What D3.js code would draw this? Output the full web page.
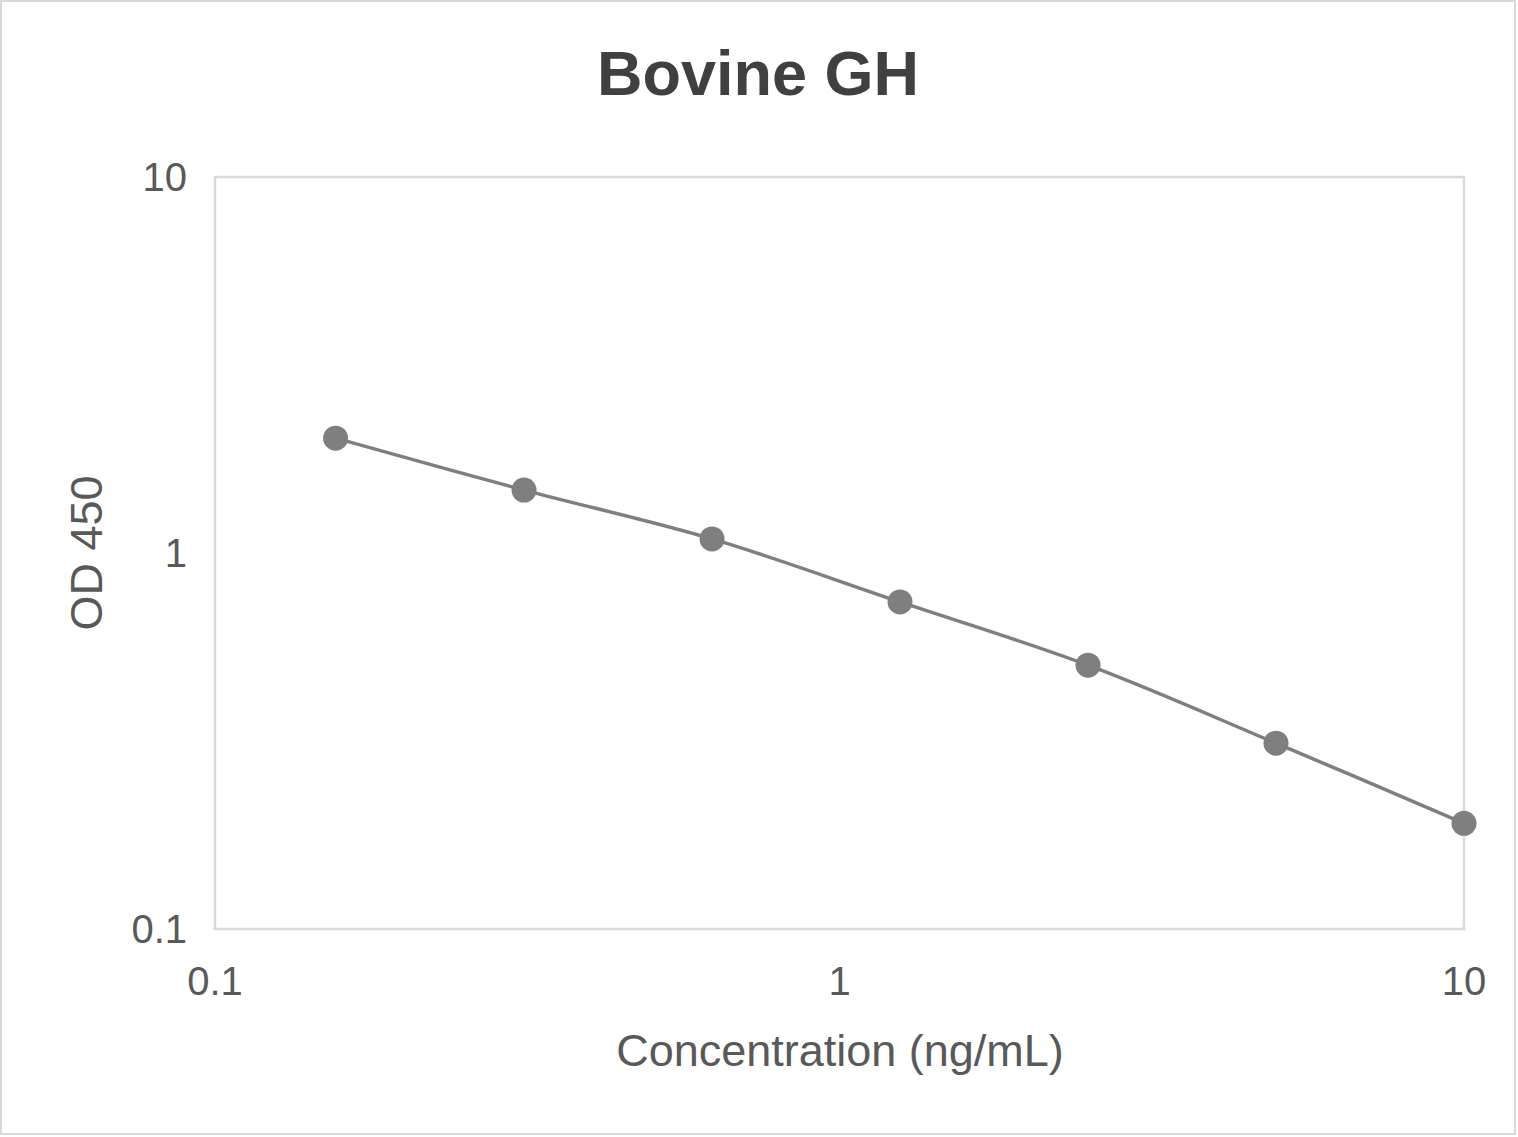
<!DOCTYPE html>
<html lang="en">
<head>
  <meta charset="UTF-8">
  <title>Bovine GH</title>
  <script src="https://cdnjs.cloudflare.com/ajax/libs/d3/7.8.5/d3.min.js"></script>
  <style>
    body { margin: 0; background: #fff; }
    text { font-family: "Liberation Sans", Arial, sans-serif; fill: #595959; }
  </style>
</head>
<body>
  <svg width="1518" height="1137"></svg>
  <script>
    // standard curve readings
    const concentration = [0.156, 0.3125, 0.625, 1.25, 2.5, 5, 10];
    const od450 = [2.02, 1.47, 1.09, 0.741, 0.503, 0.312, 0.191];
    const xTicks = [0.1, 1, 10];
    const yTicks = [0.1, 1, 10];

    const svg = d3.select("svg");
    const width = +svg.attr("width");
    const height = +svg.attr("height");

    // outer chart border
    svg.append("rect")
      .attr("x", 1).attr("y", 1)
      .attr("width", width - 4).attr("height", height - 4)
      .attr("fill", "#fff")
      .attr("stroke", "#d9d9d9")
      .attr("stroke-width", 2);

    const x = d3.scaleLog().domain([0.1, 10]).range([215, 1464]);
    const y = d3.scaleLog().domain([0.1, 10]).range([929, 177]);

    // plot area frame
    svg.append("rect")
      .attr("x", x(0.1)).attr("y", y(10))
      .attr("width", x(10) - x(0.1)).attr("height", y(0.1) - y(10))
      .attr("fill", "none")
      .attr("stroke", "#d9d9d9")
      .attr("stroke-width", 2.5);

    // tick labels
    svg.append("g").selectAll("text")
      .data(xTicks)
      .enter().append("text")
      .attr("x", d => x(d))
      .attr("y", 981)
      .attr("text-anchor", "middle")
      .attr("dominant-baseline", "central")
      .attr("font-size", 40)
      .text(d => d);

    svg.append("g").selectAll("text")
      .data(yTicks)
      .enter().append("text")
      .attr("x", 187)
      .attr("y", d => y(d))
      .attr("text-anchor", "end")
      .attr("dominant-baseline", "central")
      .attr("font-size", 40)
      .text(d => d);

    // titles
    svg.append("text")
      .attr("x", 758).attr("y", 73)
      .attr("text-anchor", "middle")
      .attr("dominant-baseline", "central")
      .attr("font-size", 63)
      .attr("font-weight", "bold")
      .attr("fill", "#404040")
      .style("fill", "#404040")
      .text("Bovine GH");

    svg.append("text")
      .attr("x", 840).attr("y", 1050)
      .attr("text-anchor", "middle")
      .attr("dominant-baseline", "central")
      .attr("font-size", 45)
      .text("Concentration (ng/mL)");

    svg.append("text")
      .attr("transform", "translate(86,553) rotate(-90)")
      .attr("text-anchor", "middle")
      .attr("dominant-baseline", "central")
      .attr("font-size", 45)
      .text("OD 450");

    // series
    const points = concentration.map((c, i) => [c, od450[i]]);

    const line = d3.line()
      .x(d => x(d[0]))
      .y(d => y(d[1]))
      .curve(d3.curveCatmullRom.alpha(0.5));

    svg.append("path")
      .datum(points)
      .attr("d", line)
      .attr("fill", "none")
      .attr("stroke", "#7f7f7f")
      .attr("stroke-width", 3.5);

    svg.append("g").selectAll("circle")
      .data(points)
      .enter().append("circle")
      .attr("cx", d => x(d[0]))
      .attr("cy", d => y(d[1]))
      .attr("r", 12.5)
      .attr("fill", "#7f7f7f");
  </script>
</body>
</html>
